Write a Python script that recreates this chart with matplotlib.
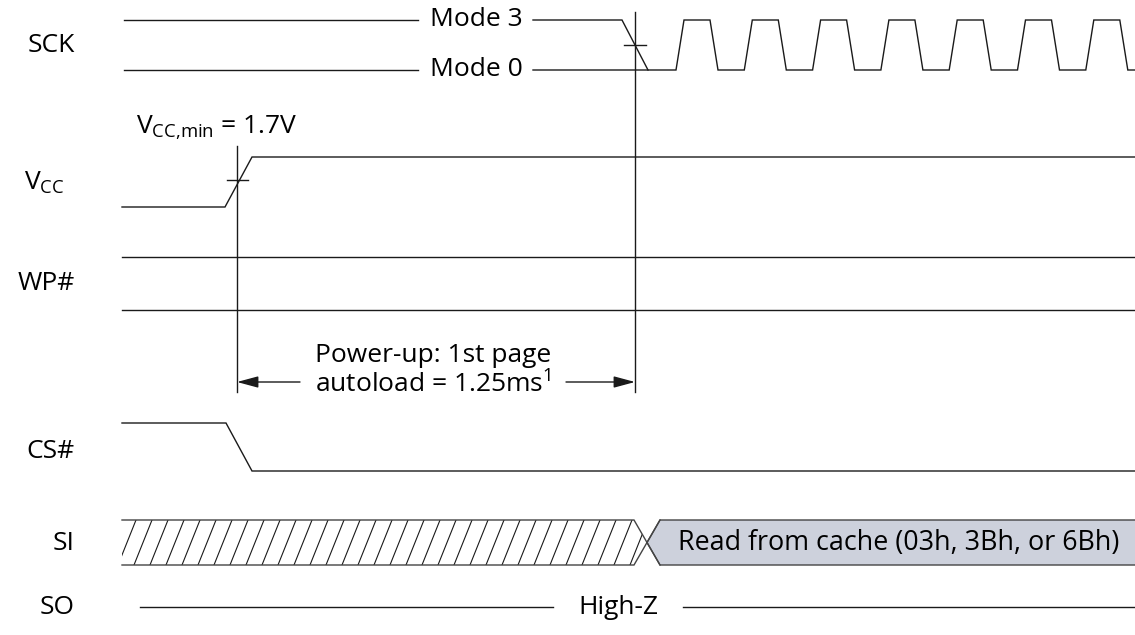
import matplotlib
matplotlib.use("Agg")
import matplotlib.pyplot as plt
from matplotlib.patches import Polygon
import numpy as np

plt.rcParams['font.family'] = ['Open Sans', 'DejaVu Sans']
plt.rcParams['mathtext.fontset'] = 'custom'
plt.rcParams['mathtext.rm'] = 'Open Sans'

# ---------------- data (diagram coordinates: x = time, y = level rows) -------------
signal_names = ["SCK", "VCC", "WP#", "CS#", "SI", "SO"]
signal_label_y = [45, 183, 283, 452, 543, 607]

x_start = 122
x_end = 1135
t_vcc_min = 237        # VCC crosses VCC,min
t_ready = 635          # end of first page autoload

# SCK
sck_hi, sck_lo = 20, 70
mode_labels = ["Mode 3", "Mode 0"]
mode_text_x = 476
mode_gap = (418, 533)
mode3_fall = (622, 648)
clk_first_rise = 676
clk_period = 68.3
clk_edge = 8
clk_high = 26
n_clk = 7

# VCC
vcc_lo, vcc_hi = 207, 157
vcc_rise = (225, 252)
vcc_cross_y = 180
vcc_label = r"$\mathregular{V_{CC{,}min}}$ = 1.7V"

# WP#
wp_levels = [257, 310]

# CS#
cs_hi, cs_lo = 423, 471
cs_fall = (226, 252)

# SI
si_top, si_bot = 520, 565
si_cross = (634, 660)
si_text = "Read from cache (03h, 3Bh, or 6Bh)"

# SO
so_y = 607
so_text = "High-Z"
so_gap = (553, 683)

# timing annotation
arrow_y = 382
vline_bottom = 392
timing_lines = ["Power-up: 1st page", "autoload = 1.25ms$\\mathregular{^1}$"]
timing_lines_y = [355, 385]

# ---------------- drawing -------------
fig = plt.figure(figsize=(11.35, 6.35), dpi=100)
ax = fig.add_axes([0, 0, 1, 1])
ax.set_xlim(0, 1135)
ax.set_ylim(635, 0)
ax.axis("off")

LC = "#1a1a1a"
LW = 1.0
FS = 19

def line(xs, ys, **kw):
    ax.plot(xs, ys, color=kw.pop("color", LC), lw=kw.pop("lw", LW),
            solid_joinstyle="miter", **kw)

# labels
for name, y in zip(signal_names, signal_label_y):
    if name == "VCC":
        ax.text(24, y, r"$\mathregular{V_{CC}}$", fontsize=FS, ha="left", va="center")
    else:
        ax.text(75, y, name, fontsize=FS, ha="right", va="center")

# SCK mode lines
line([x_start + 2, mode_gap[0]], [sck_hi, sck_hi])
line([x_start + 2, mode_gap[0]], [sck_lo, sck_lo])
ax.text(mode_text_x, sck_hi, mode_labels[0], fontsize=FS, ha="center", va="center")
ax.text(mode_text_x, sck_lo, mode_labels[1], fontsize=FS, ha="center", va="center")
line([mode_gap[1], mode3_fall[0], mode3_fall[1]], [sck_hi, sck_hi, sck_lo])
xs = [mode_gap[1], clk_first_rise]
ys = [sck_lo, sck_lo]
for i in range(n_clk):
    r = clk_first_rise + i * clk_period
    xs += [r, r + clk_edge, r + clk_edge + clk_high, r + 2 * clk_edge + clk_high]
    ys += [sck_lo, sck_hi, sck_hi, sck_lo]
xs.append(x_end)
ys.append(sck_lo)
line(xs, ys)
# crosshair on SCK
sck_cross_y = sck_hi + (sck_lo - sck_hi) * (t_ready - mode3_fall[0]) / (mode3_fall[1] - mode3_fall[0])
line([t_ready - 11, t_ready + 11], [sck_cross_y, sck_cross_y])

# VCC
line([x_start, vcc_rise[0], vcc_rise[1], x_end], [vcc_lo, vcc_lo, vcc_hi, vcc_hi])
line([t_vcc_min - 10, t_vcc_min + 11], [vcc_cross_y, vcc_cross_y])
ax.text(136, 128, vcc_label, fontsize=FS, ha="left", va="center")

# vertical reference lines
line([t_vcc_min, t_vcc_min], [146, vline_bottom])
line([t_ready, t_ready], [12, vline_bottom])

# WP#
for y in wp_levels:
    line([x_start, x_end], [y, y])

# timing arrows
arrow_kw = dict(arrowstyle="-|>,head_length=1.3,head_width=0.35", color=LC, lw=LW,
                shrinkA=0, shrinkB=0)
ax.annotate("", xy=(t_vcc_min, arrow_y), xytext=(300, arrow_y), arrowprops=arrow_kw)
ax.annotate("", xy=(t_ready, arrow_y), xytext=(566, arrow_y), arrowprops=arrow_kw)
for txt, ty in zip(timing_lines, timing_lines_y):
    ax.text(315, ty, txt, fontsize=FS, ha="left", va="center")

# CS#
line([x_start, cs_fall[0], cs_fall[1], x_end], [cs_hi, cs_hi, cs_lo, cs_lo])

# SI hatched (don't care) region
si_mid = (si_top + si_bot) / 2
xm = (si_cross[0] + si_cross[1]) / 2
hatch_poly = Polygon([(x_start, si_top), (si_cross[0], si_top), (xm, si_mid),
                      (si_cross[0], si_bot), (x_start, si_bot)], closed=True,
                     facecolor="white", edgecolor="none")
ax.add_patch(hatch_poly)
for x0 in np.arange(x_start - 20, si_cross[1] + 20, 16.0):
    ln, = ax.plot([x0, x0 + 18], [si_bot, si_top], color=LC, lw=0.8)
    ln.set_clip_path(hatch_poly)
line([x_start, si_cross[0], si_cross[1]], [si_top, si_top, si_bot], color="#444")
line([x_start, si_cross[0], si_cross[1]], [si_bot, si_bot, si_top], color="#444")
box = Polygon([(si_cross[1], si_top), (x_end + 2, si_top), (x_end + 2, si_bot),
               (si_cross[1], si_bot), (xm, si_mid)], closed=True,
              facecolor="#cdd1dc", edgecolor="#444", lw=LW)
ax.add_patch(box)
ax.text(678, si_mid, si_text, fontsize=19.4, ha="left", va="center")

# SO
line([140, so_gap[0]], [so_y, so_y])
line([so_gap[1], x_end], [so_y, so_y])
ax.text((so_gap[0] + so_gap[1]) / 2, so_y, so_text, fontsize=FS, ha="center", va="center")

fig.savefig("out.png", dpi=100)
